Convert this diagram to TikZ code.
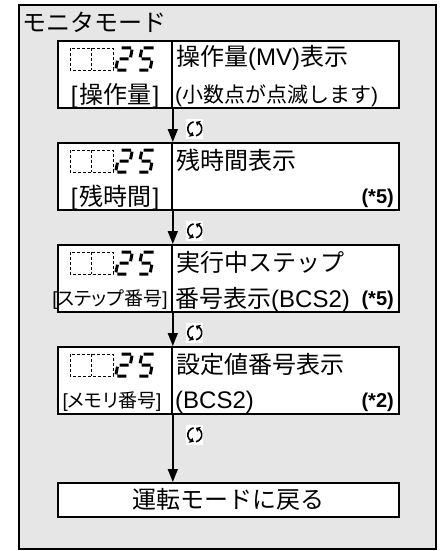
\documentclass[tikz,border=0pt]{standalone}
\usepackage{fontspec}
\setmainfont{Noto Sans CJK JP}
\newfontfamily\pjp{Noto Sans CJK JP}[RawFeature=+palt]
\newfontfamily\lat{Liberation Sans}
\usetikzlibrary{arrows.meta}
\definecolor{bg}{RGB}{230,230,230}
\newcommand\lb{{\lat [}\kern1.5pt}
\newcommand\rb{\kern1.5pt{\lat ]}}
\newcommand\refreshmark[1]{%
  \begin{scope}[shift={(#1)}]
    \fill[white] (-8.5pt,-10pt) rectangle (8.5pt,10pt);
    \draw[line width=1.6pt] (100:7pt) arc[start angle=100, end angle=232, radius=7pt];
    \draw[line width=1.6pt] (280:7pt) arc[start angle=280, end angle=412, radius=7pt];
    \fill (232:3.8pt) -- (232:10.2pt) -- (262:7pt) -- cycle;
    \fill (52:3.8pt) -- (52:10.2pt) -- (82:7pt) -- cycle;
  \end{scope}}
\tikzset{
  frame/.style={draw, line width=2pt, fill=bg},
  cell/.style={draw, line width=1.8pt, fill=white, inner sep=0pt, minimum height=67pt, anchor=north west},
  txt/.style={inner sep=0pt, font=\fontsize{24}{24}\selectfont},
  small/.style={inner sep=0pt, font=\pjp\fontsize{19}{19}\selectfont},
  note/.style={inner sep=0pt, font=\lat\bfseries\fontsize{20}{20}\selectfont, anchor=east},
  flow/.style={line width=1.5pt, -{Triangle[length=13pt,width=10pt]}},
  seg/.style={line width=3pt},
  disp/.pic={
    \draw[densely dashed, line width=0.6pt] (0,0) rectangle (43,22) (21.5,0) -- (21.5,22);
    \begin{scope}[shift={(50,0)}, xslant=0.2]
      \draw[seg] (1.7,0)--(11,0) (12.4,1.7)--(12.4,9.3) (1.7,11)--(10.7,11) (0,12.7)--(0,20.3) (1.7,22)--(10.7,22);
    \end{scope}
    \begin{scope}[shift={(72,0)}, xslant=0.2]
      \draw[seg] (1.7,0)--(11.5,0) (0,1.7)--(0,9.3) (1.7,11)--(10.7,11) (12.4,12.7)--(12.4,20.3) (1.7,22)--(10.7,22);
    \end{scope}
  }
}
\begin{document}
\begin{tikzpicture}[x=1pt,y=-1pt]
\useasboundingbox (0,0) rectangle (441,551);
\draw[frame] (19,5) rectangle (436,549);
\node[txt, anchor=west] (title) at (22,22) {モニタモード};

% boxes
\foreach \i/\t in {1/40, 2/142, 3/244, 4/346} {
  \node[cell, minimum width=114pt] (l\i) at (57,\t) {};
  \node[cell, minimum width=227pt] (r\i) at (171,\t) {};
  \pic at (70,\t+8) {disp};
}
\node[cell, minimum width=341pt, minimum height=34pt, font=\fontsize{24}{24}\selectfont] (ret) at (57,482) {運転モードに戻る};

% box 1
\node[txt, anchor=west] (t1a) at (176,58) {操作量{\lat (MV)}表示};
\node[txt, anchor=west, font=\fontsize{21}{21}\selectfont] (t1b) at (175,96) {{\lat (}小数点が点滅します{\lat )}};
\node[txt] (k1) at (115,96) {\lb 操作量\rb};
% box 2
\node[txt, anchor=west] (t2a) at (176,160) {残時間表示};
\node[note] (n2) at (394,198) {(*5)};
\node[txt] (k2) at (115,198) {\lb 残時間\rb};
% box 3
\node[txt, anchor=west] (t3a) at (176,262) {実行中ステップ};
\node[txt, anchor=west] (t3b) at (175,300) {番号表示{\lat (BCS2)}};
\node[note] (n3) at (394,300) {(*5)};
\node[small] (k3) at (110,300) {{\lat [}ステップ番号{\lat ]}};
% box 4
\node[txt, anchor=west] (t4a) at (176,364) {設定値番号表示};
\node[txt, anchor=west] (t4b) at (175,402) {{\lat (BCS2)}};
\node[note] (n4) at (394,402) {(*2)};
\node[small] (k4) at (112,402) {{\lat [}メモリ番号{\lat ]}};

% flow
\draw[flow] (l1.south east) -- (l2.north east);
\draw[flow] (l2.south east) -- (l3.north east);
\draw[flow] (l3.south east) -- (l4.north east);
\draw[flow] (l4.south east) -- (ret.north -| l4.south east);
\foreach \i in {1,2,3,4} {
  \path (l\i.south east) ++(22,20) coordinate (c\i);
  \refreshmark{c\i}
}
\end{tikzpicture}
\end{document}
